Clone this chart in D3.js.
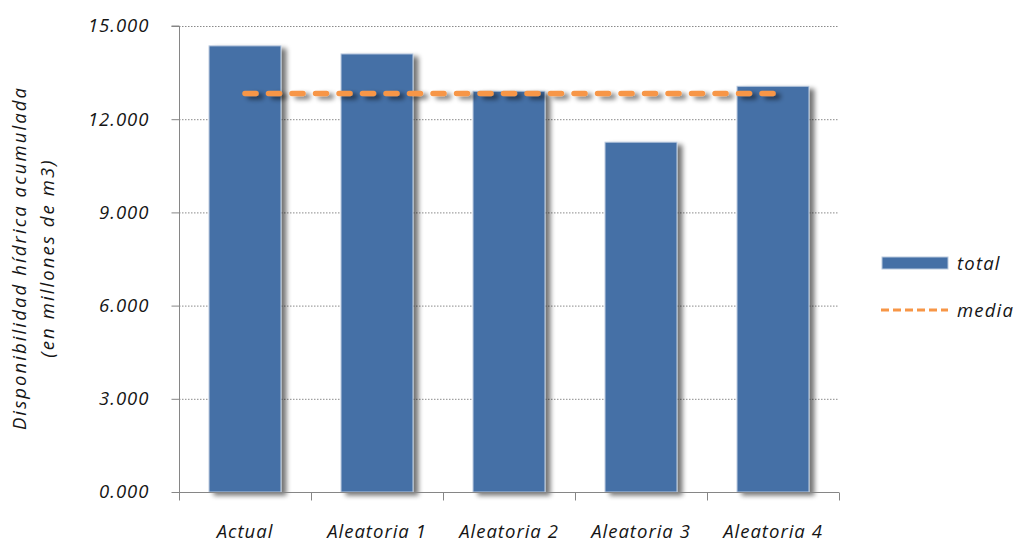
<!DOCTYPE html>
<html>
<head>
<meta charset="utf-8">
<script src="https://cdn.jsdelivr.net/npm/d3@7"></script>
<style>
  html, body { margin: 0; padding: 0; background: #fff; }
  svg { display: block; }
  text { font-family: "Open Sans", "Noto Sans", sans-serif; font-style: italic; fill: #151515; }
</style>
</head>
<body>
<svg id="chart" width="1024" height="541"></svg>
<script>
// Water availability per scenario (millions of m3)
const categories = ["Actual", "Aleatoria 1", "Aleatoria 2", "Aleatoria 3", "Aleatoria 4"];
const totals = [14360, 14100, 12900, 11260, 13060];
const media = [12830, 12830, 12830, 12830, 12830];
const yTicks = [0, 3000, 6000, 9000, 12000, 15000];
const legendLabels = ["total", "media"];
const axisTitle = ["Disponibilidad hídrica acumulada", "(en millones de m3)"];

const barColor = "#4570A6";
const lineColor = "#F79646";
const FS = 18.5;

const svg = d3.select("#chart");
const margin = { left: 179, right: 1024 - 839, top: 26, bottom: 541 - 492 };
const W = 1024, H = 541;

// soft drop shadow, shared by bars and the mean line
const defs = svg.append("defs");
function addShadow(id, userSpace) {
  const f = defs.append("filter").attr("id", id);
  if (userSpace) {
    f.attr("filterUnits", "userSpaceOnUse").attr("x", 0).attr("y", 0).attr("width", W).attr("height", H);
  } else {
    f.attr("x", "-20%").attr("y", "-20%").attr("width", "150%").attr("height", "150%");
  }
  f.append("feGaussianBlur").attr("in", "SourceAlpha").attr("stdDeviation", 2.5).attr("result", "blur");
  f.append("feOffset").attr("in", "blur").attr("dx", 5).attr("dy", 3).attr("result", "off");
  f.append("feComponentTransfer").attr("in", "off").attr("result", "soft")
    .append("feFuncA").attr("type", "linear").attr("slope", 0.55);
  const m = f.append("feMerge");
  m.append("feMergeNode").attr("in", "soft");
  m.append("feMergeNode").attr("in", "SourceGraphic");
}
addShadow("shadow", false);
addShadow("shadowLine", true);

const x = d3.scaleBand().domain(categories)
  .range([margin.left, W - margin.right]).paddingInner(0.455).paddingOuter(0.2275);
const y = d3.scaleLinear().domain([0, 15000]).range([H - margin.bottom, margin.top]);

// dotted grid lines
svg.append("g").selectAll("line").data(yTicks.filter(d => d > 0)).join("line")
  .attr("x1", margin.left).attr("x2", W - margin.right)
  .attr("y1", d => y(d) + 0.5).attr("y2", d => y(d) + 0.5)
  .attr("stroke", "#8a8a8a").attr("stroke-width", 1).attr("stroke-dasharray", "1.5,1.5");

// bars
svg.append("g").selectAll("rect").data(categories).join("rect")
  .attr("x", d => x(d))
  .attr("y", (d, i) => y(totals[i]))
  .attr("width", x.bandwidth())
  .attr("height", (d, i) => y(0) - y(totals[i]))
  .attr("fill", barColor)
  .attr("stroke", "#b9c9de").attr("stroke-width", 1)
  .attr("filter", "url(#shadow)");

// mean line, gaps sized so the first and last dashes sit on the line ends
const line = d3.line()
  .x((d, i) => x(categories[i]) + x.bandwidth() / 2)
  .y(d => y(d));
const span = x(categories[categories.length - 1]) - x(categories[0]);
const dash = 11, nDash = 23;
const gap = (span - nDash * dash) / (nDash - 1);
svg.append("path").datum(media)
  .attr("d", line)
  .attr("fill", "none")
  .attr("stroke", lineColor).attr("stroke-width", 5.5)
  .attr("stroke-linecap", "round")
  .attr("stroke-dasharray", `${dash},${gap}`)
  .attr("filter", "url(#shadowLine)");

// y axis
const yAxis = d3.axisLeft(y).tickValues(yTicks).tickSize(8).tickPadding(22)
  .tickFormat(d => d3.format(".3f")(d / 1000));
const gy = svg.append("g").attr("transform", `translate(${margin.left + 0.5},0)`).call(yAxis);
gy.selectAll("path,line").attr("stroke", "#868686");
gy.select(".domain").attr("d", `M-8,${y(15000)}H0V${y(0)}`);
gy.selectAll("text").attr("font-size", FS).attr("letter-spacing", 1).style("font-family", null);

// x axis
const gx = svg.append("g").attr("transform", `translate(0,${y(0) + 0.5})`);
gx.append("line").attr("x1", margin.left).attr("x2", W - margin.right)
  .attr("stroke", "#868686");
const bounds = categories.map(c => x(c) - x.step() * x.paddingInner() / 2).concat([W - margin.right]);
gx.selectAll(".tk").data(bounds).join("line").attr("class", "tk")
  .attr("x1", d => Math.round(d) + 0.5).attr("x2", d => Math.round(d) + 0.5)
  .attr("y1", 0).attr("y2", 8).attr("stroke", "#868686");
gx.selectAll("text").data(categories).join("text")
  .attr("x", d => x(d) + x.bandwidth() / 2).attr("y", 45)
  .attr("text-anchor", "middle").attr("font-size", FS).attr("letter-spacing", 1).text(d => d);

// axis title
const title = svg.append("text").attr("transform", "translate(0,258) rotate(-90)")
  .attr("text-anchor", "middle").attr("font-size", FS).attr("letter-spacing", 2.1);
title.append("tspan").attr("x", 0).attr("y", 26).text(axisTitle[0]);
title.append("tspan").attr("x", 0).attr("y", 54).text(axisTitle[1]);

// legend
const lg = svg.append("g");
lg.append("rect").attr("x", 882).attr("y", 257).attr("width", 66).attr("height", 12)
  .attr("fill", barColor).attr("stroke", "#b9c9de");
lg.append("text").attr("x", 957).attr("y", 270).attr("font-size", FS).attr("letter-spacing", 1.2).text(legendLabels[0]);
lg.append("line").attr("x1", 881).attr("x2", 948).attr("y1", 310).attr("y2", 310)
  .attr("stroke", lineColor).attr("stroke-width", 3).attr("stroke-dasharray", "8,4");
lg.append("text").attr("x", 957).attr("y", 317).attr("font-size", FS).attr("letter-spacing", 1.2).text(legendLabels[1]);
</script>
</body>
</html>
